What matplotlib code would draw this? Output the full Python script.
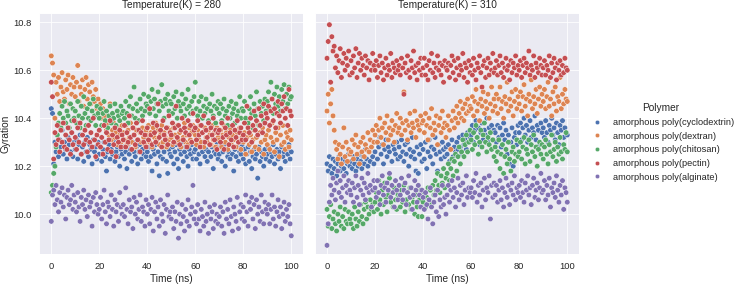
import numpy as np
import pandas as pd
import matplotlib
matplotlib.use("Agg")
import matplotlib.pyplot as plt
import seaborn as sns

# ---------------- data ----------------
time_ns = np.linspace(0, 100, 201)
temperatures = [280, 310]
polymers = ["amorphous poly(cyclodextrin)", "amorphous poly(dextran)",
            "amorphous poly(chitosan)", "amorphous poly(pectin)",
            "amorphous poly(alginate)"]

gyr_280_cyclodextrin = [
    10.44, 10.42, 10.21, 10.30, 10.26, 10.33, 10.24, 10.31, 10.28, 10.35, 10.25, 10.30, 10.27, 10.23, 10.32, 10.29, 10.26, 10.34, 10.24, 10.30,
    10.27, 10.31, 10.23, 10.29, 10.33, 10.25, 10.28, 10.22, 10.30, 10.26, 10.32, 10.24, 10.29, 10.27, 10.21, 10.31, 10.26, 10.28, 10.23, 10.30,
    10.25, 10.28, 10.22, 10.27, 10.30, 10.24, 10.18, 10.26, 10.29, 10.23, 10.27, 10.25, 10.31, 10.22, 10.26, 10.28, 10.24, 10.20, 10.27, 10.25,
    10.28, 10.23, 10.26, 10.19, 10.29, 10.25, 10.27, 10.22, 10.30, 10.26, 10.24, 10.28, 10.21, 10.26, 10.29, 10.23, 10.27, 10.25, 10.31, 10.24,
    10.26, 10.22, 10.28, 10.24, 10.18, 10.27, 10.25, 10.29, 10.21, 10.26, 10.16, 10.24, 10.28, 10.23, 10.26, 10.30, 10.22, 10.17, 10.27, 10.25,
    10.24, 10.28, 10.21, 10.26, 10.29, 10.23, 10.19, 10.27, 10.25, 10.30, 10.22, 10.26, 10.28, 10.24, 10.20, 10.27, 10.25, 10.29, 10.23, 10.26,
    10.27, 10.23, 10.29, 10.25, 10.21, 10.28, 10.26, 10.30, 10.24, 10.27, 10.22, 10.26, 10.29, 10.24, 10.28, 10.19, 10.26, 10.25, 10.30, 10.23,
    10.25, 10.28, 10.22, 10.26, 10.29, 10.20, 10.27, 10.24, 10.26, 10.23, 10.29, 10.25, 10.18, 10.27, 10.24, 10.28, 10.22, 10.26, 10.25, 10.29,
    10.23, 10.27, 10.21, 10.25, 10.28, 10.22, 10.26, 10.19, 10.24, 10.27, 10.23, 10.25, 10.15, 10.28, 10.22, 10.26, 10.24, 10.20, 10.27, 10.23,
    10.25, 10.28, 10.22, 10.26, 10.24, 10.29, 10.21, 10.25, 10.27, 10.23, 10.26, 10.19, 10.28, 10.24, 10.26, 10.22, 10.27, 10.25, 10.29, 10.23,
    10.26]
gyr_280_dextran = [
    10.66, 10.63, 10.58, 10.40, 10.55, 10.50, 10.57, 10.47, 10.53, 10.59, 10.51, 10.48, 10.56, 10.52, 10.58, 10.46, 10.54, 10.50, 10.57, 10.53,
    10.49, 10.55, 10.62, 10.47, 10.53, 10.50, 10.56, 10.45, 10.52, 10.57, 10.48, 10.54, 10.51, 10.46, 10.55, 10.49, 10.47, 10.52, 10.44, 10.48,
    10.43, 10.46, 10.40, 10.44, 10.37, 10.41, 10.35, 10.38, 10.33, 10.46, 10.31, 10.35, 10.38, 10.32, 10.34, 10.29, 10.36, 10.33, 10.30, 10.37,
    10.34, 10.31, 10.37, 10.29, 10.35, 10.32, 10.38, 10.30, 10.36, 10.33, 10.28, 10.35, 10.31, 10.39, 10.34, 10.30, 10.36, 10.32, 10.29, 10.35,
    10.33, 10.37, 10.30, 10.34, 10.28, 10.36, 10.32, 10.38, 10.31, 10.35, 10.29, 10.33, 10.37, 10.30, 10.34, 10.32, 10.28, 10.36, 10.31, 10.35,
    10.32, 10.29, 10.36, 10.33, 10.30, 10.37, 10.31, 10.34, 10.28, 10.35, 10.32, 10.38, 10.30, 10.33, 10.29, 10.36, 10.31, 10.34, 10.37, 10.30,
    10.33, 10.29, 10.35, 10.31, 10.37, 10.30, 10.34, 10.28, 10.36, 10.32, 10.30, 10.35, 10.33, 10.29, 10.37, 10.31, 10.34, 10.28, 10.36, 10.32,
    10.31, 10.35, 10.28, 10.33, 10.37, 10.30, 10.34, 10.27, 10.32, 10.36, 10.29, 10.33, 10.31, 10.35, 10.28, 10.34, 10.30, 10.36, 10.27, 10.32,
    10.30, 10.34, 10.25, 10.32, 10.36, 10.29, 10.33, 10.26, 10.31, 10.35, 10.28, 10.32, 10.38, 10.27, 10.34, 10.30, 10.36, 10.25, 10.31, 10.33,
    10.29, 10.35, 10.27, 10.32, 10.38, 10.30, 10.26, 10.34, 10.31, 10.36, 10.24, 10.33, 10.29, 10.37, 10.30, 10.27, 10.34, 10.32, 10.28, 10.35,
    10.31]
gyr_280_chitosan = [
    10.09, 10.12, 10.17, 10.20, 10.28, 10.33, 10.38, 10.42, 10.36, 10.45, 10.40, 10.47, 10.38, 10.43, 10.41, 10.36, 10.46, 10.39, 10.44, 10.40,
    10.43, 10.38, 10.47, 10.41, 10.36, 10.45, 10.40, 10.49, 10.42, 10.37, 10.44, 10.40, 10.46, 10.39, 10.43, 10.48, 10.41, 10.37, 10.45, 10.42,
    10.40, 10.44, 10.37, 10.42, 10.47, 10.39, 10.43, 10.36, 10.41, 10.45, 10.38, 10.42, 10.40, 10.46, 10.37, 10.43, 10.41, 10.39, 10.45, 10.42,
    10.43, 10.40, 10.47, 10.42, 10.38, 10.45, 10.49, 10.41, 10.44, 10.53, 10.40, 10.46, 10.43, 10.39, 10.48, 10.44, 10.41, 10.50, 10.43, 10.46,
    10.45, 10.49, 10.42, 10.47, 10.52, 10.44, 10.48, 10.41, 10.46, 10.51, 10.43, 10.47, 10.54, 10.45, 10.40, 10.48, 10.46, 10.50, 10.43, 10.47,
    10.46, 10.42, 10.49, 10.44, 10.51, 10.40, 10.47, 10.45, 10.43, 10.50, 10.46, 10.41, 10.48, 10.44, 10.52, 10.45, 10.42, 10.47, 10.43, 10.49,
    10.55, 10.44, 10.41, 10.47, 10.43, 10.49, 10.40, 10.45, 10.42, 10.48, 10.44, 10.39, 10.46, 10.43, 10.50, 10.41, 10.45, 10.38, 10.44, 10.47,
    10.42, 10.46, 10.39, 10.44, 10.48, 10.41, 10.43, 10.37, 10.45, 10.40, 10.47, 10.42, 10.44, 10.38, 10.46, 10.41, 10.43, 10.49, 10.40, 10.44,
    10.43, 10.47, 10.40, 10.45, 10.38, 10.44, 10.49, 10.42, 10.36, 10.46, 10.41, 10.51, 10.44, 10.37, 10.47, 10.42, 10.45, 10.39, 10.48, 10.43,
    10.47, 10.51, 10.44, 10.55, 10.48, 10.42, 10.50, 10.46, 10.53, 10.45, 10.49, 10.43, 10.52, 10.47, 10.54, 10.44, 10.50, 10.46, 10.53, 10.48,
    10.49]
gyr_280_pectin = [
    10.55, 10.49, 10.23, 10.34, 10.29, 10.37, 10.31, 10.26, 10.35, 10.30, 10.38, 10.28, 10.33, 10.27, 10.36, 10.31, 10.25, 10.34, 10.29, 10.39,
    10.32, 10.27, 10.36, 10.30, 10.38, 10.25, 10.33, 10.29, 10.35, 10.31, 10.26, 10.37, 10.30, 10.34, 10.28, 10.40, 10.31, 10.24, 10.33, 10.29,
    10.35, 10.28, 10.32, 10.25, 10.37, 10.30, 10.34, 10.27, 10.31, 10.39, 10.26, 10.33, 10.29, 10.36, 10.24, 10.32, 10.30, 10.35, 10.28, 10.33,
    10.31, 10.37, 10.28, 10.34, 10.30, 10.41, 10.32, 10.27, 10.36, 10.33, 10.29, 10.38, 10.31, 10.35, 10.26, 10.34, 10.39, 10.30, 10.33, 10.28,
    10.36, 10.31, 10.44, 10.33, 10.29, 10.38, 10.34, 10.30, 10.37, 10.46, 10.32, 10.35, 10.28, 10.39, 10.33, 10.31, 10.36, 10.29, 10.41, 10.34,
    10.33, 10.38, 10.30, 10.36, 10.45, 10.32, 10.37, 10.29, 10.35, 10.40, 10.31, 10.36, 10.34, 10.28, 10.39, 10.33, 10.37, 10.30, 10.42, 10.35,
    10.36, 10.31, 10.39, 10.33, 10.28, 10.37, 10.34, 10.41, 10.30, 10.35, 10.32, 10.38, 10.29, 10.36, 10.33, 10.40, 10.31, 10.35, 10.27, 10.34,
    10.35, 10.30, 10.38, 10.32, 10.27, 10.36, 10.33, 10.40, 10.29, 10.34, 10.31, 10.37, 10.28, 10.35, 10.32, 10.39, 10.30, 10.34, 10.36, 10.31,
    10.33, 10.38, 10.31, 10.45, 10.36, 10.34, 10.40, 10.30, 10.37, 10.43, 10.35, 10.39, 10.33, 10.44, 10.37, 10.41, 10.34, 10.46, 10.38, 10.42,
    10.40, 10.45, 10.37, 10.43, 10.48, 10.39, 10.44, 10.36, 10.42, 10.47, 10.41, 10.38, 10.46, 10.43, 10.49, 10.40, 10.44, 10.37, 10.52, 10.43,
    10.41]
gyr_280_alginate = [
    9.97, 10.08, 10.10, 10.04, 10.12, 10.06, 10.01, 10.09, 10.05, 10.11, 10.03, 10.08, 9.98, 10.07, 10.10, 10.04, 10.06, 10.12, 10.02, 10.08,
    10.05, 10.01, 10.09, 10.03, 9.97, 10.07, 10.04, 10.10, 10.02, 10.06, 9.99, 10.08, 10.03, 10.05, 9.95, 10.07, 10.01, 10.09, 10.04, 10.00,
    10.02, 10.07, 9.98, 10.04, 10.10, 10.01, 9.96, 10.05, 10.03, 9.99, 10.08, 10.02, 9.95, 10.06, 10.01, 10.04, 9.97, 10.09, 10.03, 10.00,
    10.04, 9.99, 10.11, 10.02, 9.96, 10.06, 10.01, 10.03, 9.94, 10.07, 10.00, 10.05, 9.98, 10.02, 10.08, 9.97, 10.03, 10.01, 9.95, 10.06,
    10.00, 10.04, 9.96, 10.02, 10.07, 9.93, 10.01, 10.05, 9.98, 10.03, 9.95, 10.06, 10.00, 9.97, 10.04, 9.92, 10.02, 10.08, 9.99, 10.01,
    9.98, 10.03, 9.94, 10.01, 9.97, 10.05, 9.90, 10.00, 9.96, 10.04, 9.99, 9.93, 10.02, 9.97, 10.06, 9.95, 10.00, 10.03, 10.12, 9.98,
    10.01, 9.96, 10.04, 9.98, 9.93, 10.02, 9.99, 9.95, 10.05, 9.97, 10.00, 9.92, 10.03, 9.98, 10.01, 9.94, 10.04, 9.97, 10.00, 9.96,
    9.99, 10.03, 9.95, 10.01, 9.92, 10.05, 9.98, 10.02, 9.96, 10.06, 9.99, 9.93, 10.03, 10.00, 9.97, 10.07, 9.94, 10.01, 10.04, 9.98,
    10.03, 9.97, 10.08, 10.01, 9.95, 10.05, 10.02, 10.07, 9.98, 10.04, 9.94, 10.06, 10.00, 10.03, 9.97, 10.08, 10.01, 9.96, 10.05, 10.02,
    10.00, 10.04, 9.96, 10.02, 10.08, 9.98, 10.03, 9.95, 10.01, 10.06, 9.99, 10.03, 9.94, 10.00, 10.05, 9.97, 10.02, 9.99, 10.04, 9.96,
    9.91]

gyr_310_cyclodextrin = [
    10.21, 10.18, 10.24, 10.20, 10.17, 10.23, 10.19, 10.22, 10.16, 10.21, 10.24, 10.18, 10.20, 10.23, 10.19, 10.22, 10.17, 10.21, 10.25, 10.20,
    10.22, 10.19, 10.24, 10.21, 10.18, 10.23, 10.20, 10.25, 10.22, 10.19, 10.24, 10.21, 10.27, 10.23, 10.20, 10.26, 10.22, 10.28, 10.24, 10.21,
    10.26, 10.30, 10.23, 10.28, 10.32, 10.25, 10.29, 10.21, 10.27, 10.31, 10.24, 10.28, 10.26, 10.33, 10.22, 10.29, 10.27, 10.25, 10.30, 10.23,
    10.28, 10.24, 10.31, 10.26, 10.22, 10.29, 10.25, 10.30, 10.20, 10.27, 10.24, 10.32, 10.26, 10.23, 10.18, 10.28, 10.17, 10.25, 10.29, 10.22,
    10.27, 10.23, 10.30, 10.19, 10.26, 10.31, 10.24, 10.28, 10.21, 10.27, 10.32, 10.25, 10.18, 10.29, 10.26, 10.23, 10.30, 10.27, 10.24, 10.28,
    10.25, 10.29, 10.22, 10.27, 10.31, 10.24, 10.28, 10.26, 10.30, 10.27, 10.32, 10.28, 10.25, 10.33, 10.29, 10.31, 10.27, 10.34, 10.30, 10.32,
    10.33, 10.37, 10.30, 10.35, 10.39, 10.32, 10.36, 10.29, 10.34, 10.38, 10.31, 10.35, 10.33, 10.40, 10.30, 10.36, 10.34, 10.37, 10.31, 10.35,
    10.34, 10.30, 10.37, 10.32, 10.36, 10.28, 10.33, 10.38, 10.31, 10.35, 10.25, 10.33, 10.21, 10.30, 10.36, 10.20, 10.32, 10.34, 10.29, 10.37,
    10.34, 10.38, 10.31, 10.36, 10.40, 10.33, 10.37, 10.30, 10.35, 10.39, 10.32, 10.36, 10.34, 10.41, 10.31, 10.37, 10.35, 10.29, 10.38, 10.34,
    10.36, 10.32, 10.39, 10.34, 10.30, 10.37, 10.35, 10.40, 10.33, 10.36, 10.31, 10.38, 10.34, 10.29, 10.37, 10.35, 10.39, 10.32, 10.36, 10.34,
    10.33]
gyr_310_dextran = [
    10.43, 10.50, 10.38, 10.46, 10.52, 10.41, 10.35, 10.30, 10.27, 10.23, 10.29, 10.25, 10.21, 10.28, 10.36, 10.24, 10.30, 10.22, 10.27, 10.25,
    10.26, 10.31, 10.23, 10.29, 10.33, 10.25, 10.28, 10.21, 10.30, 10.26, 10.32, 10.24, 10.29, 10.27, 10.34, 10.26, 10.31, 10.28, 10.35, 10.30,
    10.33, 10.37, 10.30, 10.35, 10.40, 10.32, 10.36, 10.29, 10.38, 10.34, 10.41, 10.31, 10.36, 10.33, 10.39, 10.35, 10.30, 10.37, 10.42, 10.34,
    10.36, 10.40, 10.33, 10.38, 10.51, 10.35, 10.39, 10.31, 10.37, 10.42, 10.34, 10.38, 10.36, 10.43, 10.32, 10.39, 10.37, 10.35, 10.41, 10.38,
    10.39, 10.34, 10.42, 10.37, 10.31, 10.40, 10.36, 10.44, 10.33, 10.38, 10.35, 10.41, 10.29, 10.37, 10.40, 10.34, 10.43, 10.36, 10.38, 10.32,
    10.37, 10.41, 10.35, 10.27, 10.39, 10.43, 10.36, 10.40, 10.45, 10.38, 10.42, 10.47, 10.40, 10.44, 10.39, 10.46, 10.42, 10.48, 10.43, 10.45,
    10.44, 10.49, 10.41, 10.47, 10.52, 10.43, 10.46, 10.39, 10.48, 10.45, 10.51, 10.42, 10.47, 10.44, 10.50, 10.40, 10.46, 10.53, 10.43, 10.48,
    10.45, 10.50, 10.42, 10.48, 10.53, 10.44, 10.47, 10.40, 10.49, 10.46, 10.55, 10.43, 10.48, 10.45, 10.51, 10.41, 10.47, 10.52, 10.44, 10.49,
    10.46, 10.51, 10.43, 10.49, 10.54, 10.45, 10.48, 10.41, 10.50, 10.47, 10.56, 10.44, 10.49, 10.46, 10.52, 10.42, 10.48, 10.53, 10.45, 10.50,
    10.47, 10.52, 10.44, 10.49, 10.55, 10.45, 10.48, 10.41, 10.51, 10.46, 10.53, 10.43, 10.49, 10.47, 10.57, 10.44, 10.50, 10.46, 10.52, 10.48,
    10.47]
gyr_310_chitosan = [
    10.02, 9.95, 9.99, 10.04, 9.94, 9.98, 10.01, 9.96, 9.93, 10.00, 9.97, 10.03, 9.95, 9.99, 9.94, 10.02, 9.97, 9.96, 10.01, 9.98,
    9.96, 10.00, 9.94, 10.03, 9.98, 9.95, 10.01, 9.97, 10.04, 9.99, 9.96, 10.02, 10.05, 9.98, 10.03, 10.00, 10.06, 10.02, 10.04, 10.01,
    10.05, 10.09, 10.02, 10.14, 10.06, 10.00, 10.10, 10.04, 10.13, 10.07, 10.01, 10.08, 10.15, 10.05, 10.09, 10.03, 10.11, 10.06, 10.02, 10.08,
    10.07, 10.03, 10.10, 10.05, 10.12, 10.01, 10.06, 10.09, 10.04, 10.11, 10.02, 10.07, 10.05, 10.00, 10.08, 10.03, 9.99, 10.06, 10.10, 9.99,
    10.05, 10.09, 10.03, 10.07, 10.11, 10.06, 10.10, 10.04, 10.12, 10.08, 10.14, 10.10, 10.17, 10.12, 10.09, 10.16, 10.13, 10.19, 10.11, 10.15,
    10.17, 10.21, 10.14, 10.19, 10.23, 10.16, 10.22, 10.25, 10.18, 10.24, 10.28, 10.21, 10.26, 10.31, 10.24, 10.29, 10.33, 10.26, 10.30, 10.35,
    10.31, 10.27, 10.34, 10.29, 10.37, 10.32, 10.25, 10.30, 10.35, 10.28, 10.33, 10.38, 10.30, 10.26, 10.32, 10.29, 10.34, 10.27, 10.31, 10.24,
    10.28, 10.22, 10.26, 10.31, 10.19, 10.25, 10.29, 10.17, 10.24, 10.27, 10.21, 10.30, 10.23, 10.18, 10.26, 10.28, 10.22, 10.25, 10.31, 10.24,
    10.26, 10.30, 10.23, 10.28, 10.32, 10.21, 10.27, 10.25, 10.31, 10.22, 10.29, 10.26, 10.33, 10.24, 10.28, 10.20, 10.27, 10.30, 10.25, 10.29,
    10.23, 10.28, 10.31, 10.25, 10.21, 10.29, 10.26, 10.33, 10.24, 10.27, 10.30, 10.22, 10.28, 10.25, 10.32, 10.26, 10.23, 10.29, 10.27, 10.34,
    10.26]
gyr_310_pectin = [
    10.65, 10.72, 10.79, 10.55, 10.74, 10.68, 10.70, 10.61, 10.66, 10.59, 10.64, 10.69, 10.57, 10.63, 10.67, 10.60, 10.65, 10.62, 10.68, 10.58,
    10.64, 10.59, 10.66, 10.61, 10.69, 10.57, 10.63, 10.67, 10.60, 10.65, 10.62, 10.58, 10.66, 10.61, 10.64, 10.56, 10.63, 10.60, 10.67, 10.62,
    10.60, 10.64, 10.57, 10.62, 10.66, 10.59, 10.63, 10.56, 10.61, 10.65, 10.58, 10.62, 10.60, 10.67, 10.57, 10.63, 10.61, 10.59, 10.64, 10.60,
    10.62, 10.58, 10.65, 10.61, 10.50, 10.63, 10.59, 10.66, 10.60, 10.57, 10.64, 10.61, 10.68, 10.59, 10.62, 10.56, 10.63, 10.60, 10.65, 10.58,
    10.61, 10.65, 10.58, 10.62, 10.56, 10.64, 10.60, 10.67, 10.59, 10.63, 10.57, 10.61, 10.66, 10.60, 10.63, 10.58, 10.62, 10.55, 10.64, 10.61,
    10.60, 10.63, 10.57, 10.62, 10.66, 10.59, 10.64, 10.56, 10.61, 10.65, 10.58, 10.62, 10.60, 10.67, 10.57, 10.63, 10.61, 10.55, 10.64, 10.59,
    10.62, 10.58, 10.65, 10.60, 10.56, 10.63, 10.61, 10.66, 10.59, 10.53, 10.62, 10.64, 10.57, 10.61, 10.65, 10.58, 10.63, 10.60, 10.67, 10.59,
    10.61, 10.64, 10.58, 10.62, 10.66, 10.59, 10.63, 10.57, 10.61, 10.65, 10.60, 10.62, 10.56, 10.64, 10.59, 10.63, 10.61, 10.66, 10.58, 10.62,
    10.60, 10.64, 10.57, 10.62, 10.65, 10.59, 10.63, 10.61, 10.68, 10.58, 10.62, 10.60, 10.66, 10.57, 10.63, 10.61, 10.59, 10.65, 10.62, 10.58,
    10.61, 10.64, 10.58, 10.62, 10.60, 10.66, 10.57, 10.63, 10.59, 10.65, 10.61, 10.56, 10.63, 10.60, 10.64, 10.58, 10.62, 10.59, 10.65, 10.61,
    10.60]
gyr_310_alginate = [
    9.87, 9.96, 10.05, 10.12, 10.08, 10.15, 10.10, 10.06, 10.13, 10.18, 10.09, 10.14, 10.07, 10.11, 10.16, 10.05, 10.12, 10.09, 10.14, 10.10,
    10.08, 10.13, 10.05, 10.11, 10.16, 10.07, 10.12, 10.04, 10.10, 10.15, 10.08, 10.13, 10.06, 10.11, 10.17, 10.09, 10.12, 10.03, 10.10, 10.14,
    10.11, 10.07, 10.14, 10.09, 10.04, 10.12, 10.16, 10.08, 10.11, 10.05, 10.13, 10.10, 10.17, 10.07, 10.12, 10.09, 10.03, 10.14, 10.10, 10.06,
    10.12, 10.08, 10.15, 10.06, 10.10, 10.13, 10.04, 10.09, 10.16, 10.07, 10.11, 10.02, 10.08, 10.14, 10.10, 10.05, 10.12, 10.08, 10.03, 10.10,
    10.07, 10.02, 10.09, 10.04, 9.98, 10.06, 10.11, 10.03, 9.96, 10.05, 10.08, 10.01, 10.10, 9.99, 10.06, 10.03, 10.12, 10.04, 10.07, 10.00,
    10.08, 10.12, 10.05, 10.10, 10.14, 10.07, 10.11, 10.03, 10.09, 10.15, 10.06, 10.12, 10.08, 10.13, 10.04, 10.10, 10.16, 10.07, 10.11, 10.09,
    10.11, 10.07, 10.14, 10.09, 10.17, 10.05, 10.12, 10.08, 10.13, 10.03, 10.10, 10.15, 10.06, 10.11, 10.09, 10.16, 9.98, 10.12, 10.07, 10.13,
    10.08, 10.12, 10.05, 10.10, 10.14, 10.06, 10.11, 10.03, 10.09, 10.15, 10.07, 10.12, 10.04, 10.10, 10.13, 10.08, 10.16, 10.06, 10.11, 10.09,
    10.12, 10.07, 10.14, 10.09, 10.05, 10.13, 10.10, 10.16, 10.08, 10.11, 10.04, 10.12, 10.15, 10.07, 10.10, 10.13, 10.06, 10.11, 10.17, 10.09,
    10.10, 10.14, 10.06, 10.12, 10.08, 10.15, 10.03, 10.11, 10.09, 10.13, 10.07, 10.16, 10.10, 10.05, 10.12, 10.08, 10.14, 10.02, 10.11, 10.09,
    10.05]

series_280 = [gyr_280_cyclodextrin, gyr_280_dextran, gyr_280_chitosan,
              gyr_280_pectin, gyr_280_alginate]
series_310 = [gyr_310_cyclodextrin, gyr_310_dextran, gyr_310_chitosan,
              gyr_310_pectin, gyr_310_alginate]

frames = []
for temp, series in zip(temperatures, [series_280, series_310]):
    for poly, vals in zip(polymers, series):
        frames.append(pd.DataFrame({"Time (ns)": time_ns, "Gyration": vals,
                                    "Polymer": poly, "Temperature(K)": temp}))
df = pd.concat(frames, ignore_index=True)

# ---------------- plot ----------------
sns.set_theme(style="darkgrid")
FS = 1.06
plt.rcParams.update({
    "font.family": ["Liberation Sans", "DejaVu Sans"],
    "xtick.labelsize": 11 * FS, "ytick.labelsize": 11 * FS,
    "axes.labelsize": 12 * FS, "axes.titlesize": 12 * FS,
    "legend.fontsize": 11 * FS, "legend.title_fontsize": 12 * FS,
})
DPI = 57
W, H = 734, 285
fig = plt.figure(figsize=(W / DPI, H / DPI), dpi=DPI)

def frac(x0, y0, x1, y1):
    return [x0 / W, 1 - y1 / H, (x1 - x0) / W, (y1 - y0) / H]

ax1 = fig.add_axes(frac(39.3, 12.7, 303.3, 254))
ax2 = fig.add_axes(frac(315, 12.7, 579.3, 254), sharey=ax1)
palette = sns.color_palette("deep", 5)

for ax, temp in zip([ax1, ax2], temperatures):
    sub = df[df["Temperature(K)"] == temp]
    sns.scatterplot(data=sub, x="Time (ns)", y="Gyration", hue="Polymer",
                    hue_order=polymers, palette=palette, ax=ax, legend=False,
                    s=48)
    ax.set_title(f"Temperature(K) = {temp}")
    ax.set_xlim(-5, 105)
    ax.set_xticks([0, 20, 40, 60, 80, 100])

ax1.set_ylim(9.834, 10.84)
ax1.set_yticks([10.0, 10.2, 10.4, 10.6, 10.8])
ax2.set_ylabel("")
plt.setp(ax2.get_yticklabels(), visible=False)
ax2.tick_params(axis="y", length=0)

handles = [plt.Line2D([], [], marker="o", linestyle="", markersize=5.5,
                      markerfacecolor=c, markeredgecolor="w",
                      markeredgewidth=0.5) for c in palette]
fig.legend(handles, polymers, title="Polymer", loc="center left",
           bbox_to_anchor=(579 / W, 0.5), frameon=False)

fig.savefig("out.png", dpi=DPI)
